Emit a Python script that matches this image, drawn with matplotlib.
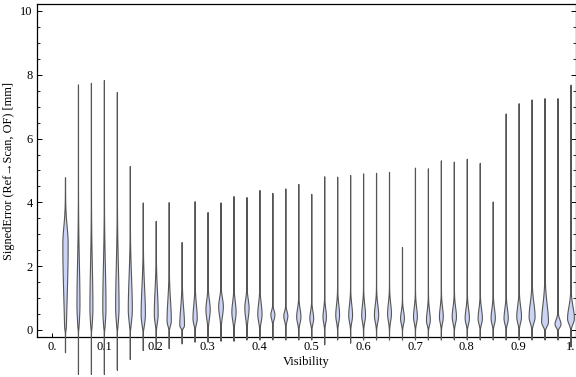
import numpy as np
import matplotlib
matplotlib.use("Agg")
import matplotlib.pyplot as plt
from matplotlib.ticker import MultipleLocator

# visibility bins (violin centres)
visibility = [0.025, 0.05, 0.075, 0.1, 0.125, 0.15, 0.175, 0.2, 0.225, 0.25,
              0.275, 0.3, 0.325, 0.35, 0.375, 0.4, 0.425, 0.45, 0.475, 0.5,
              0.525, 0.55, 0.575, 0.6, 0.625, 0.65, 0.675, 0.7, 0.725, 0.75,
              0.775, 0.8, 0.825, 0.85, 0.875, 0.9, 0.925, 0.95, 0.975, 1.0]

# signed error [mm] per bin
err_max = [4.79, 7.70, 7.75, 7.84, 7.46, 5.14, 4.00, 3.42, 4.01, 2.76,
           4.04, 3.70, 4.00, 4.20, 4.17, 4.39, 4.30, 4.44, 4.58, 4.27,
           4.82, 4.81, 4.86, 4.91, 4.93, 4.96, 2.60, 5.09, 5.07, 5.32,
           5.28, 5.37, 5.24, 4.03, 6.79, 7.11, 7.23, 7.27, 7.27, 7.69]
err_min = [-0.70, -1.38, -1.38, -1.38, -1.25, -0.91, -0.63, -0.60, -0.57, -0.42,
           -0.37, -0.37, -0.34, -0.34, -0.30, -0.30, -0.30, -0.30, -0.30, -0.30,
           -0.45, -0.30, -0.40, -0.30, -0.30, -0.30, -0.30, -0.30, -0.30, -0.30,
           -0.30, -0.30, -0.30, -0.30, -0.30, -0.30, -0.30, -0.30, -0.30, -0.52]
err_mode = [2.70, 0.80, 0.70, 0.70, 0.70, 0.65, 0.50, 0.50, 0.30, 0.15,
            0.37, 0.65, 0.75, 0.57, 0.70, 0.50, 0.49, 0.45, 0.42, 0.37,
            0.42, 0.47, 0.47, 0.47, 0.47, 0.52, 0.37, 0.42, 0.31, 0.42,
            0.42, 0.37, 0.37, 0.37, 0.37, 0.42, 0.42, 0.26, 0.19, 0.37]
spread_lo = [1.70, 0.50, 0.45, 0.45, 0.40, 0.35, 0.30, 0.25, 0.15, 0.08,
             0.17, 0.28, 0.30, 0.25, 0.30, 0.22, 0.14, 0.15, 0.18, 0.16,
             0.18, 0.20, 0.20, 0.20, 0.20, 0.22, 0.16, 0.18, 0.14, 0.18,
             0.18, 0.16, 0.16, 0.16, 0.16, 0.18, 0.18, 0.13, 0.10, 0.16]
spread_hi = [0.55, 1.30, 1.30, 1.30, 1.30, 1.00, 0.85, 0.75, 0.65, 0.55,
             0.43, 0.30, 0.26, 0.32, 0.27, 0.34, 0.13, 0.14, 0.25, 0.22,
             0.25, 0.32, 0.32, 0.32, 0.32, 0.32, 0.22, 0.30, 0.30, 0.30,
             0.30, 0.30, 0.30, 0.30, 0.30, 0.34, 0.43, 0.55, 0.15, 0.36]
rel_width = [1.25, 0.70, 0.70, 0.75, 0.80, 0.95, 1.00, 0.90, 1.00, 1.10,
             1.00, 1.00, 1.10, 1.00, 1.00, 1.00, 0.95, 0.95, 1.00, 0.90,
             0.80, 0.90, 0.90, 0.90, 1.00, 0.90, 0.90, 0.90, 0.90, 0.90,
             1.00, 1.00, 1.00, 1.00, 1.00, 1.10, 1.40, 1.60, 1.40, 1.60]

x_ticks = [0.0, 0.1, 0.2, 0.3, 0.4, 0.5, 0.6, 0.7, 0.8, 0.9, 1.0]
x_tick_labels = ["0.", "0.1", "0.2", "0.3", "0.4", "0.5", "0.6", "0.7", "0.8", "0.9", "1."]
y_ticks = [0, 2, 4, 6, 8, 10]

BASE_WIDTH = 0.0082
FILL = "#ccd4f6"
EDGE = "#555555"


def violin_stats(top, bottom, mode, sd_lo, sd_hi):
    y = np.linspace(bottom, top, 800)
    sd = np.where(y < mode, sd_lo, sd_hi)
    dens = np.exp(-0.5 * ((y - mode) / sd) ** 2)
    # body sits on zero, only a thin tail below
    dens = dens / (1.0 + np.exp(-y / 0.04))
    dens = dens + 0.04
    dens[0] = 0.0
    dens[-1] = 0.0
    return {"coords": y, "vals": dens, "mean": mode, "median": mode,
            "min": bottom, "max": top}


plt.rcParams["font.family"] = ["Liberation Serif", "DejaVu Serif"]

fig = plt.figure(figsize=(5.76, 3.77), dpi=100)
ax = fig.add_axes([37 / 576, (377 - 337.3) / 377, (575.5 - 37) / 576, (337.3 - 4.3) / 377])

stats = [violin_stats(t, b, m, lo, hi)
         for t, b, m, lo, hi in zip(err_max, err_min, err_mode, spread_lo, spread_hi)]
widths = [BASE_WIDTH * w for w in rel_width]
parts = ax.violin(stats, positions=visibility, widths=widths,
                  showmeans=False, showextrema=False, showmedians=False)
for body in parts["bodies"]:
    body.set_facecolor(FILL)
    body.set_edgecolor(EDGE)
    body.set_linewidth(0.8)
    body.set_alpha(1.0)
    body.set_clip_on(False)
    body.set_zorder(3)

ax.set_xlim(-0.029, 1.0097)
ax.set_ylim(-0.229, 10.21)

ax.set_xticks(x_ticks)
ax.set_xticklabels(x_tick_labels)
ax.set_yticks(y_ticks)
ax.yaxis.set_minor_locator(MultipleLocator(0.5))

ax.tick_params(axis="both", which="both", direction="in", colors="black",
               labelsize=9)
ax.tick_params(axis="y", which="major", length=3.5, width=0.7, right=True, pad=3)
ax.tick_params(axis="y", which="minor", length=2.0, width=0.6, right=True)
ax.tick_params(axis="x", which="major", length=3.0, width=0.7, top=False, pad=3)

for s in ax.spines.values():
    s.set_linewidth(0.9)
    s.set_color("black")

ax.set_xlabel("Visibility", fontsize=9, labelpad=2)
ax.set_ylabel("SignedError (Ref\u2192Scan, OF) [mm]", fontsize=8.8, labelpad=4)

fig.savefig("out.png", dpi=100)
